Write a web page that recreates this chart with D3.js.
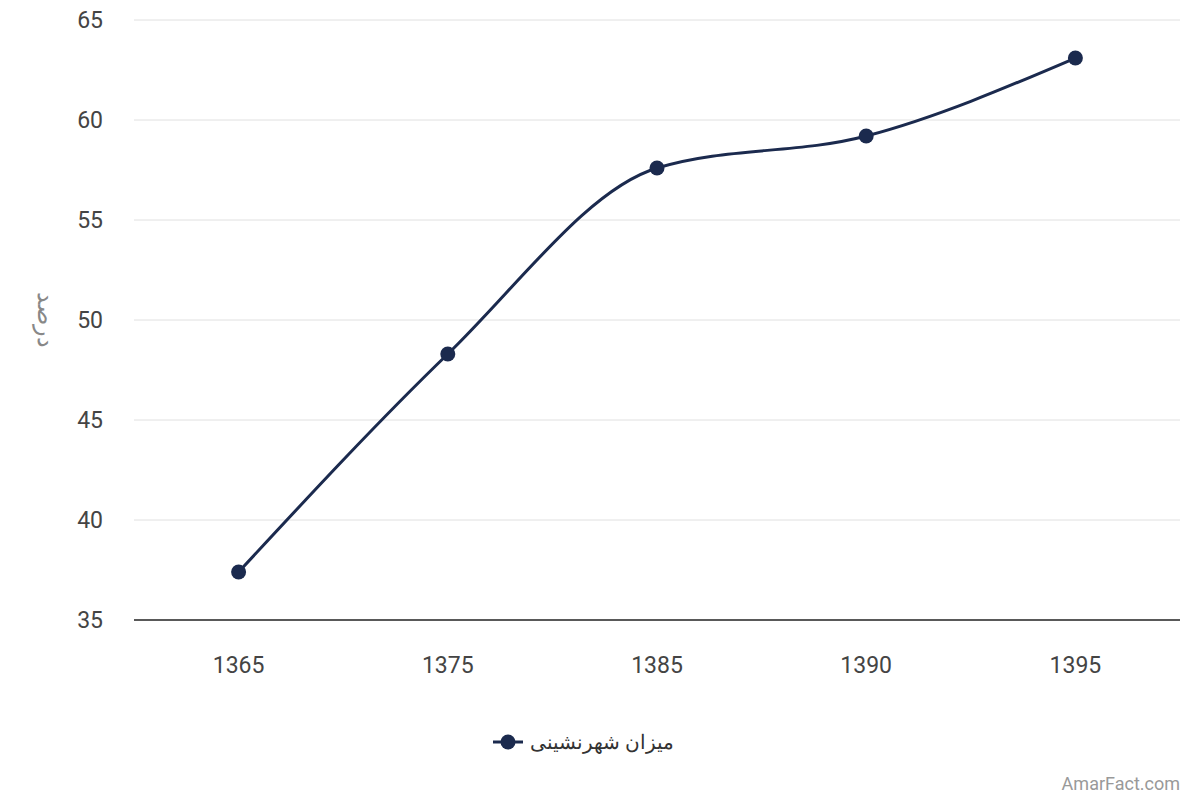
<!DOCTYPE html>
<html><head><meta charset="utf-8">
<script src="https://cdn.jsdelivr.net/npm/d3@7"></script>
<style>body{margin:0;background:#fff;font-family:Roboto,"Noto Sans",sans-serif}</style>
</head><body><svg id="c" width="1200" height="800"></svg>
<script>
const years = ["1365","1375","1385","1390","1395"];
const values = [37.4, 48.3, 57.6, 59.2, 63.1];
const yTicks = [35,40,45,50,55,60,65];
const seriesName = "میزان شهرنشینی";
const yLabel = "درصد";

const svg = d3.select("#c");
const m = {l:134, r:1180, t:20, b:620};
const x = d3.scaleBand().domain(years).range([m.l, m.r]);
const y = d3.scaleLinear().domain([35,65]).range([m.b, m.t]);
const cx = d => x(d) + x.bandwidth()/2;
const col = "#1b2a4e";

svg.append("g").selectAll("line").data(yTicks.filter(t=>t>35)).join("line")
  .attr("x1", m.l).attr("x2", m.r).attr("y1", d=>y(d)).attr("y2", d=>y(d))
  .attr("stroke", "#e0e0e0");
svg.append("line").attr("x1", m.l).attr("x2", m.r).attr("y1", y(35)).attr("y2", y(35)).attr("stroke", "#222").attr("stroke-width",1.5);

svg.append("g").selectAll("text").data(yTicks).join("text")
  .attr("x", 103).attr("y", d=>y(d)).attr("dy","0.35em").attr("text-anchor","end")
  .attr("font-size", 23).attr("fill","#444").text(d=>d);
svg.append("g").selectAll("text").data(years).join("text")
  .attr("x", d=>cx(d)).attr("y", 665).attr("dy","0.35em").attr("text-anchor","middle")
  .attr("font-size", 23).attr("fill","#444").text(d=>d);

svg.append("text").attr("transform","translate(38,320) rotate(90)")
  .attr("text-anchor","middle").attr("font-size", 24).attr("fill","#888")
  .attr("font-family","'Noto Sans', sans-serif").text(yLabel);

const pts = years.map((d,i)=>[cx(d), y(values[i])]);
svg.append("path").attr("d", d3.line().curve(d3.curveMonotoneX)(pts))
  .attr("fill","none").attr("stroke", col).attr("stroke-width", 3);
svg.append("g").selectAll("circle").data(pts).join("circle")
  .attr("cx", d=>d[0]).attr("cy", d=>d[1]).attr("r", 7.5).attr("fill", col);

// legend
svg.append("line").attr("x1", 493).attr("x2", 523).attr("y1", 742).attr("y2", 742).attr("stroke", col).attr("stroke-width", 3);
svg.append("circle").attr("cx", 508).attr("cy", 742).attr("r", 7.5).attr("fill", col);
svg.append("text").attr("x", 674).attr("y", 742).attr("dy","0.35em").attr("text-anchor","end")
  .attr("font-size", 20).attr("fill","#333").attr("font-family","'Noto Sans', sans-serif").text(seriesName);

svg.append("text").attr("x", 1180).attr("y", 790).attr("text-anchor","end")
  .attr("font-size", 18).attr("fill","#999").text("AmarFact.com");
</script></body></html>
